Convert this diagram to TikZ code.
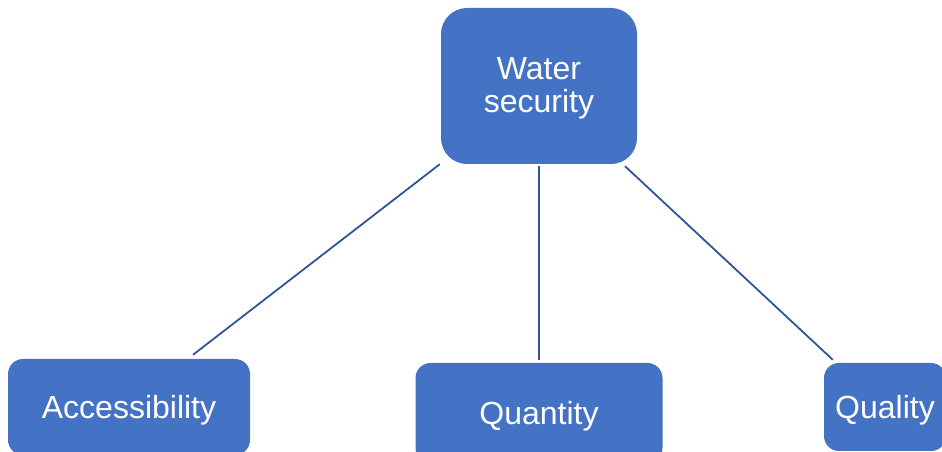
\documentclass[tikz,border=0pt]{standalone}
\usepackage{fontspec}
\setmainfont{Liberation Sans}
\usepackage{tikz}
\definecolor{boxblue}{HTML}{4472C4}
\definecolor{lineblue}{HTML}{2F5597}
\tikzset{
  topicbox/.style={draw=none,fill=boxblue,text=white,align=center,inner sep=0pt,
    font=\fontsize{32}{33}\selectfont},
  link/.style={lineblue,line width=1.8pt}
}
\begin{document}
\begin{tikzpicture}[x=1pt,y=1pt]
\useasboundingbox (0,0) rectangle (942,452);
\clip (0,0) rectangle (942,452);

% Main topic
\node[topicbox,rounded corners=26pt,minimum width=196pt,minimum height=156pt,text depth=2.5pt] (water) at (539,366) {Water\\security};

% Sub topics
\node[topicbox,rounded corners=15pt,minimum width=242pt,minimum height=96pt,text depth=1pt] (access) at (129,45) {Accessibility};
\node[topicbox,rounded corners=15pt,minimum width=247pt,minimum height=100pt,text depth=1pt] (quantity) at (539,39) {Quantity};
\node[topicbox,rounded corners=15pt,minimum width=122pt,minimum height=88pt,text depth=1pt] (quality) at (885,45) {Quality};

% Links
\draw[link] ([xshift=-1pt]water.south west) -- ([xshift=64pt,yshift=4pt]access.north);
\draw[link] ([yshift=-2pt]water.south) -- ([yshift=3pt]quantity.north);
\draw[link] ([xshift=86pt,yshift=-2pt]water.south) -- ([xshift=9pt,yshift=3pt]quality.north west);
\end{tikzpicture}
\end{document}
